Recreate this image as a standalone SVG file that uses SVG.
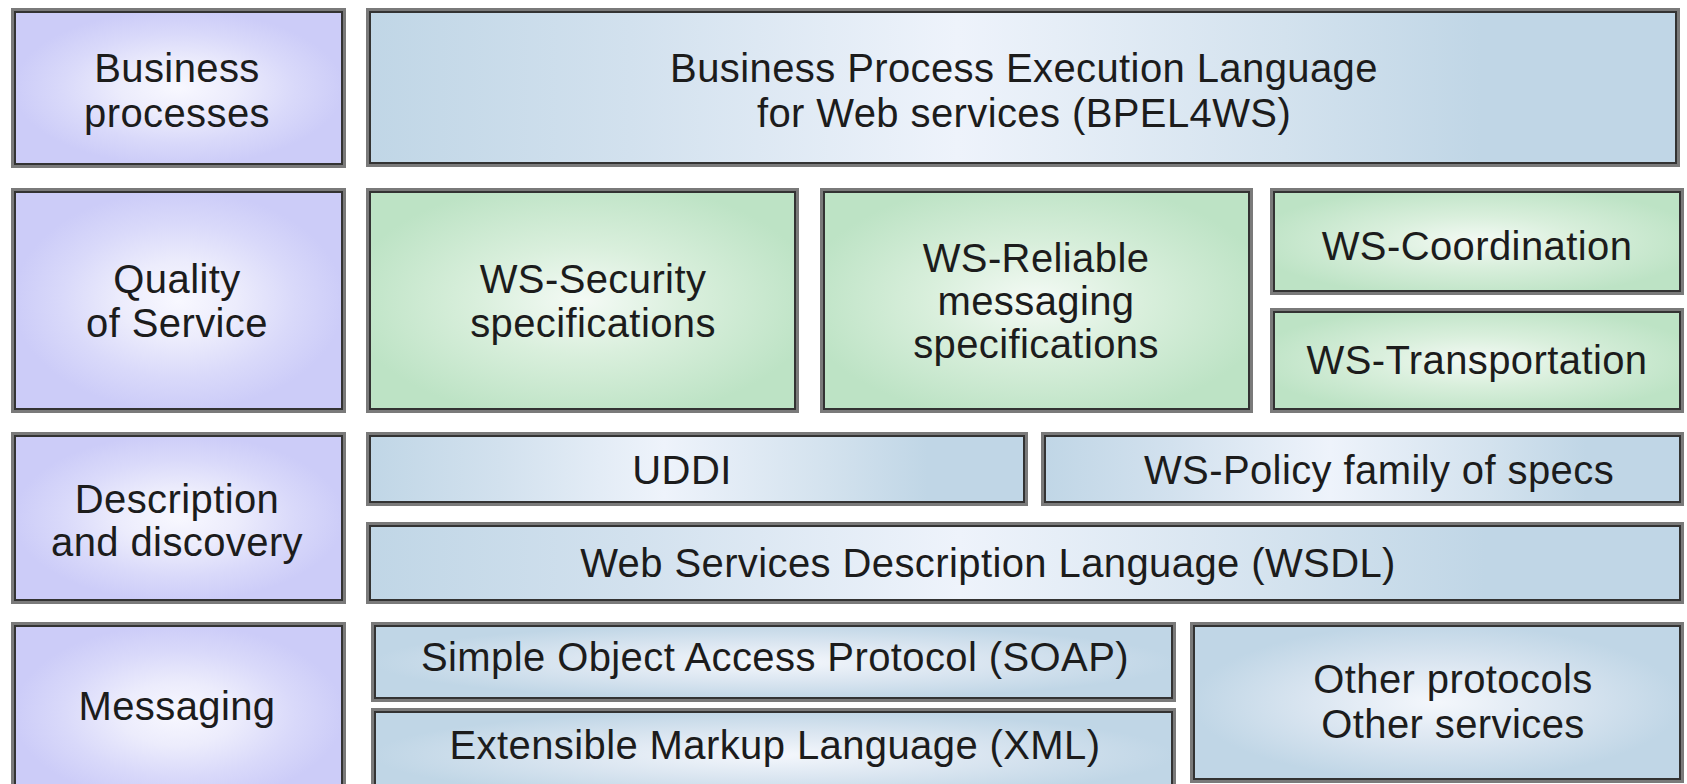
<svg xmlns="http://www.w3.org/2000/svg" width="1687" height="784" viewBox="0 0 1687 784">
<defs>
<radialGradient id="gLav" cx="0.5" cy="0.5" r="0.5">
<stop offset="0" stop-color="#f8f8ff"/>
<stop offset="0.35" stop-color="#ececfc"/>
<stop offset="0.7" stop-color="#d9d9fa"/>
<stop offset="1" stop-color="#ccccf8"/>
</radialGradient>
<radialGradient id="gGreen" cx="0.5" cy="0.5" r="0.55">
<stop offset="0" stop-color="#f4faf5"/>
<stop offset="0.45" stop-color="#d9efdc"/>
<stop offset="1" stop-color="#bde3c5"/>
</radialGradient>
<radialGradient id="gBlueR" cx="0.5" cy="0.5" r="0.5">
<stop offset="0" stop-color="#f4f7fc"/>
<stop offset="0.5" stop-color="#dbe6f1"/>
<stop offset="1" stop-color="#c0d6e6"/>
</radialGradient>
<linearGradient id="gBlueL" x1="0" y1="0" x2="1" y2="0">
<stop offset="0" stop-color="#c0d6e6"/>
<stop offset="0.2" stop-color="#d2e1ee"/>
<stop offset="0.45" stop-color="#eef3fb"/>
<stop offset="0.7" stop-color="#d3e2ee"/>
<stop offset="0.85" stop-color="#c0d6e6"/>
<stop offset="1" stop-color="#c0d6e6"/>
</linearGradient>
</defs>
<style>
.box{stroke:#7a7a7a;stroke-width:4}
.inner{fill:none;stroke:#333333;stroke-width:2}
.lav{fill:url(#gLav)}
.grn{fill:url(#gGreen)}
.blr{fill:url(#gBlueR)}
.bll{fill:url(#gBlueL)}
text{font-family:"Liberation Sans",Arial,Helvetica,sans-serif;font-size:40px;fill:#1c1c1c;text-anchor:middle;letter-spacing:0.4px}
</style>

<g id="label-business">
<rect class="box lav" x="13" y="10" width="331" height="156"/>
<rect class="inner" x="15" y="12" width="327" height="152"/>
<text x="177" y="82">Business</text>
<text x="177" y="127">processes</text>
</g>
<g id="label-qos">
<rect class="box lav" x="13" y="190" width="331" height="221"/>
<rect class="inner" x="15" y="192" width="327" height="217"/>
<text x="177" y="293">Quality</text>
<text x="177" y="337">of Service</text>
</g>
<g id="label-description">
<rect class="box lav" x="13" y="434" width="331" height="168"/>
<rect class="inner" x="15" y="436" width="327" height="164"/>
<text x="177" y="513">Description</text>
<text x="177" y="556">and discovery</text>
</g>
<g id="label-messaging">
<rect class="box lav" x="13" y="624" width="331" height="180"/>
<rect class="inner" x="15" y="626" width="327" height="176"/>
<text x="177" y="720">Messaging</text>
</g>

<g id="bpel">
<rect class="box bll" x="368" y="10" width="1310" height="155"/>
<rect class="inner" x="370" y="12" width="1306" height="151"/>
<text x="1024" y="82">Business Process Execution Language</text>
<text x="1024" y="127">for Web services (BPEL4WS)</text>
</g>

<g id="ws-security">
<rect class="box grn" x="368" y="190" width="429" height="221"/>
<rect class="inner" x="370" y="192" width="425" height="217"/>
<text x="593" y="293">WS-Security</text>
<text x="593" y="337">specifications</text>
</g>
<g id="ws-reliable">
<rect class="box grn" x="822" y="190" width="429" height="221"/>
<rect class="inner" x="824" y="192" width="425" height="217"/>
<text x="1036" y="272">WS-Reliable</text>
<text x="1036" y="315">messaging</text>
<text x="1036" y="358">specifications</text>
</g>
<g id="ws-coordination">
<rect class="box grn" x="1272" y="190" width="410" height="103"/>
<rect class="inner" x="1274" y="192" width="406" height="99"/>
<text x="1477" y="260">WS-Coordination</text>
</g>
<g id="ws-transportation">
<rect class="box grn" x="1272" y="310" width="410" height="101"/>
<rect class="inner" x="1274" y="312" width="406" height="97"/>
<text x="1477" y="374">WS-Transportation</text>
</g>

<g id="uddi">
<rect class="box bll" x="368" y="434" width="658" height="70"/>
<rect class="inner" x="370" y="436" width="654" height="66"/>
<text x="682" y="484">UDDI</text>
</g>
<g id="ws-policy">
<rect class="box bll" x="1043" y="434" width="639" height="70"/>
<rect class="inner" x="1045" y="436" width="635" height="66"/>
<text x="1379" y="484">WS-Policy family of specs</text>
</g>
<g id="wsdl">
<rect class="box bll" x="368" y="524" width="1314" height="78"/>
<rect class="inner" x="370" y="526" width="1310" height="74"/>
<text x="988" y="577">Web Services Description Language (WSDL)</text>
</g>

<g id="soap">
<rect class="box blr" x="373" y="624" width="801" height="76"/>
<rect class="inner" x="375" y="626" width="797" height="72"/>
<text x="775" y="671">Simple Object Access Protocol (SOAP)</text>
</g>
<g id="xml">
<rect class="box blr" x="373" y="710" width="801" height="90"/>
<rect class="inner" x="375" y="712" width="797" height="86"/>
<text x="775" y="759">Extensible Markup Language (XML)</text>
</g>
<g id="other">
<rect class="box blr" x="1192" y="624" width="490" height="157"/>
<rect class="inner" x="1194" y="626" width="486" height="153"/>
<text x="1453" y="693">Other protocols</text>
<text x="1453" y="738">Other services</text>
</g>

<g id="connectors"></g>
</svg>
